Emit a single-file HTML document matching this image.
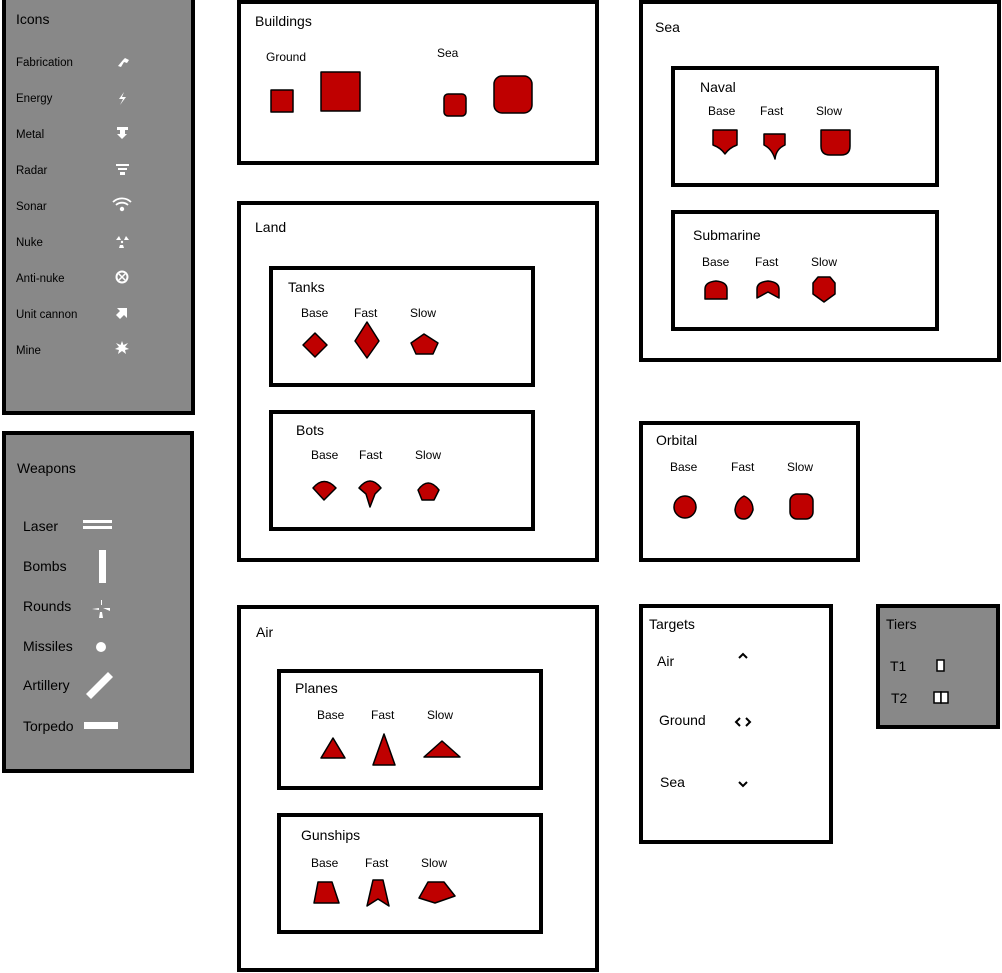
<!DOCTYPE html>
<html><head><meta charset="utf-8"><style>
html,body{margin:0;padding:0;background:#fff;}
svg{display:block;}
text{font-family:"Liberation Sans",Arial,sans-serif;fill:#000;}
.t{font-size:14px;}
.l{font-size:12px;}
.i{font-size:11.5px;}
.box{fill:#fff;stroke:#000;stroke-width:4;}
.gbox{fill:#888;stroke:#000;stroke-width:4;}
.r{fill:#bf0000;stroke:#000;stroke-width:1.5;stroke-linejoin:round;}
.w{fill:#fff;}
</style></head><body>
<svg width="1002" height="973" viewBox="0 0 1002 973" xmlns="http://www.w3.org/2000/svg">
<!-- Icons -->
<rect class="gbox" x="4" y="-4" width="189" height="417"/>
<text class="t" x="16" y="24">Icons</text>
<g class="i">
<text class="i" x="16" y="66">Fabrication</text>
<text class="i" x="16" y="102">Energy</text>
<text class="i" x="16" y="138">Metal</text>
<text class="i" x="16" y="174">Radar</text>
<text class="i" x="16" y="210">Sonar</text>
<text class="i" x="16" y="246">Nuke</text>
<text class="i" x="16" y="282">Anti-nuke</text>
<text class="i" x="16" y="318">Unit cannon</text>
<text class="i" x="16" y="354">Mine</text>
</g>
<g fill="#fff" stroke="none">
<path d="M118 66 L123 60 L125 58 L129 60 L127 63 L124 62 L121 67 Z"/>
<path d="M124 92 L119 99 L123 99 L120 105 L126 97 L122 97 Z"/>
<rect x="117" y="127" width="11" height="3"/><path d="M120 130 L125 130 L125 134 L127 134 L122 139 L117 134 L120 134Z"/>
<rect x="116" y="164" width="13" height="2"/><rect x="118" y="168" width="9" height="2"/><rect x="120" y="172" width="5" height="3"/>
<circle cx="122" cy="209" r="2.2"/>
<path d="M116 205 A9 9 0 0 1 128 205" stroke="#fff" stroke-width="1.8" fill="none"/>
<path d="M113 202 A13 13 0 0 1 131 202" stroke="#fff" stroke-width="1.8" fill="none"/>
<path d="M116 240 L119 236 L121 240Z M124 240 L126 236 L129 240Z M120 245 L123 245 L124 248 L119 248Z"/><circle cx="122" cy="242" r="1.2"/>
<circle cx="122" cy="277" r="5.5" fill="none" stroke="#fff" stroke-width="2"/>
<path d="M119 274 L125 280 M125 274 L119 280" stroke="#fff" stroke-width="1.5"/>
<path d="M117 308 L127 308 L127 318 L124 315 L120 319 L116 315 L120 311 Z"/>
<path d="M122 341 L123.5 345 L128 343 L125 347 L129 349 L125 350 L126 354 L122 351 L118 354 L119 350 L115 349 L119 347 L116 343 L120.5 345 Z"/>
</g>
<!-- Weapons -->
<rect class="gbox" x="4" y="433" width="188" height="338"/>
<text class="t" x="17" y="473">Weapons</text>
<text class="t" x="23" y="531">Laser</text>
<text class="t" x="23" y="571">Bombs</text>
<text class="t" x="23" y="611">Rounds</text>
<text class="t" x="23" y="651">Missiles</text>
<text class="t" x="23" y="690">Artillery</text>
<text class="t" x="23" y="731">Torpedo</text>
<g fill="#fff">
<rect x="83" y="520" width="29" height="3"/><rect x="83" y="526" width="29" height="3"/>
<rect x="99" y="550" width="7" height="33"/>
<path d="M101 600 L102 600 L102 605 L101 605Z M92 609 L99 608 L99 610 Z M103 608 L110 608 L110 611 Z M100 612 L102 612 L103 618 L99 618 Z"/>
<circle cx="101" cy="647" r="5"/>
<path d="M86 694 L108 672 L113 677 L91 699 Z"/>
<rect x="84" y="722" width="34" height="7"/>
</g>
<!-- Buildings -->
<rect class="box" x="239" y="2" width="358" height="161"/>
<text class="t" x="255" y="26">Buildings</text>
<text class="l" x="266" y="61">Ground</text>
<text class="l" x="437" y="57">Sea</text>
<rect class="r" x="271" y="90" width="22" height="22"/>
<rect class="r" x="321" y="72" width="39" height="39"/>
<rect class="r" x="444" y="94" width="22" height="22" rx="4"/>
<rect class="r" x="494" y="76" width="38" height="37" rx="8"/>
<!-- Land -->
<rect class="box" x="239" y="203" width="358" height="357"/>
<text class="t" x="255" y="232">Land</text>
<rect class="box" x="271" y="268" width="262" height="117"/>
<text class="t" x="288" y="292">Tanks</text>
<text class="l" x="301" y="317">Base</text><text class="l" x="354" y="317">Fast</text><text class="l" x="410" y="317">Slow</text>
<path class="r" d="M315 333 L327 345 L315 357 L303 345Z"/>
<path class="r" d="M367 322 L379 341 L367 358 L355 341Z"/>
<path class="r" d="M424 334 L438 343 L433 354 L416 354 L411 343Z"/>
<rect class="box" x="271" y="412" width="262" height="117"/>
<text class="t" x="296" y="435">Bots</text>
<text class="l" x="311" y="459">Base</text><text class="l" x="359" y="459">Fast</text><text class="l" x="415" y="459">Slow</text>
<path class="r" d="M313 488 Q324 475 336 488 L324 500 Z"/>
<path class="r" d="M359 488 Q370 474 381 488 L375 494 L370 507 L366 494 Z"/>
<path class="r" d="M418 490 Q428 476 439 490 L434 500 L422 500 Z"/>
<!-- Air -->
<rect class="box" x="239" y="607" width="358" height="363"/>
<text class="t" x="256" y="637">Air</text>
<rect class="box" x="279" y="671" width="262" height="117"/>
<text class="t" x="295" y="693">Planes</text>
<text class="l" x="317" y="719">Base</text><text class="l" x="371" y="719">Fast</text><text class="l" x="427" y="719">Slow</text>
<path class="r" d="M333 738 L345 758 L321 758Z"/>
<path class="r" d="M384 734 L395 765 L373 765Z"/>
<path class="r" d="M442 741 L460 757 L424 757Z"/>
<rect class="box" x="279" y="815" width="262" height="117"/>
<text class="t" x="301" y="840">Gunships</text>
<text class="l" x="311" y="867">Base</text><text class="l" x="365" y="867">Fast</text><text class="l" x="421" y="867">Slow</text>
<path class="r" d="M318 882 L332 882 L339 903 L314 903Z"/>
<path class="r" d="M373 880 L383 880 L389 906 L378 899 L367 906Z"/>
<path class="r" d="M428 882 L444 882 L455 896 L435 903 L419 898Z"/>
<!-- Sea -->
<rect class="box" x="641" y="2" width="358" height="358"/>
<text class="t" x="655" y="32">Sea</text>
<rect class="box" x="673" y="68" width="264" height="117"/>
<text class="t" x="700" y="92">Naval</text>
<text class="l" x="708" y="115">Base</text><text class="l" x="760" y="115">Fast</text><text class="l" x="816" y="115">Slow</text>
<path class="r" d="M713 130 L737 130 L737 145 Q729 148 725 154 Q721 148 713 145Z"/>
<path class="r" d="M764 134 L785 134 L785 145 Q776 149 775 159 Q772 149 764 145Z"/>
<path class="r" d="M821 130 L850 130 L850 146 Q850 155 841 155 L830 155 Q821 155 821 146Z"/>
<rect class="box" x="673" y="212" width="264" height="117"/>
<text class="t" x="693" y="240">Submarine</text>
<text class="l" x="702" y="266">Base</text><text class="l" x="755" y="266">Fast</text><text class="l" x="811" y="266">Slow</text>
<path class="r" d="M705 299 L705 289 Q705 282 716 281 Q727 282 727 289 L727 299Z"/>
<path class="r" d="M757 298 L757 289 Q757 282 768 281 Q779 282 779 289 L779 298 L768 292Z"/>
<path class="r" d="M813 283 L818 277 L830 277 L835 283 L835 294 L824 302 L813 294Z"/>
<!-- Orbital -->
<rect class="box" x="641" y="423" width="217" height="137"/>
<text class="t" x="656" y="445">Orbital</text>
<text class="l" x="670" y="471">Base</text><text class="l" x="731" y="471">Fast</text><text class="l" x="787" y="471">Slow</text>
<circle class="r" cx="685" cy="507" r="11"/>
<path class="r" d="M744 496 Q753 500 753 510 Q750 519 744 519 Q736 519 735 510 Q736 500 744 496Z"/>
<rect class="r" x="790" y="494" width="23" height="25" rx="7"/>
<!-- Targets -->
<rect class="box" x="641" y="606" width="190" height="236"/>
<text class="t" x="649" y="629">Targets</text>
<text class="t" x="657" y="666">Air</text>
<text class="t" x="659" y="725">Ground</text>
<text class="t" x="660" y="787">Sea</text>
<g fill="none" stroke="#000" stroke-width="2">
<path d="M739 658 L743 654 L747 658"/>
<path d="M740 718 L736 722 L740 726 M746 718 L750 722 L746 726"/>
<path d="M739 782 L743 786 L747 782"/>
</g>
<!-- Tiers -->
<rect class="gbox" x="878" y="606" width="120" height="121"/>
<text class="t" x="886" y="629">Tiers</text>
<text class="t" x="890" y="671">T1</text>
<text class="t" x="891" y="703">T2</text>
<rect x="937" y="660" width="7" height="11" fill="#fff" stroke="#000" stroke-width="1.5"/>
<rect x="934" y="692" width="7" height="11" fill="#fff" stroke="#000" stroke-width="1.5"/>
<rect x="941" y="692" width="7" height="11" fill="#fff" stroke="#000" stroke-width="1.5"/>
</svg>
</body></html>
